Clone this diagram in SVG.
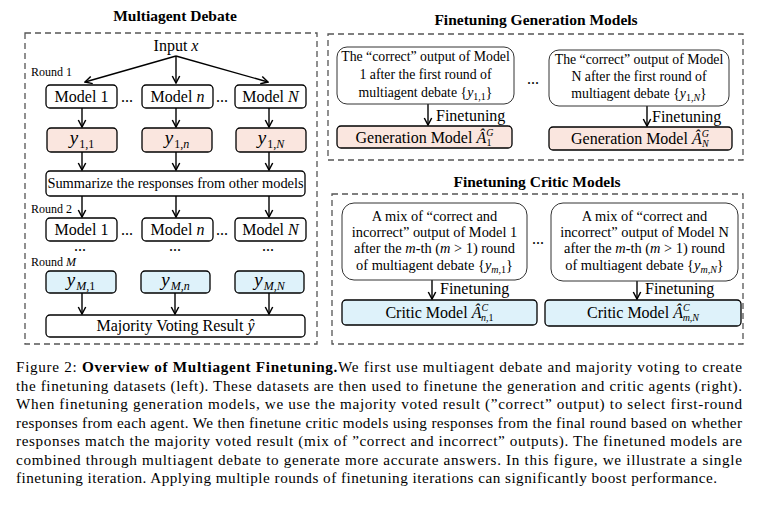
<svg xmlns="http://www.w3.org/2000/svg" width="758" height="506" viewBox="0 0 758 506">
<style>
text{font-family:"Liberation Serif","Times New Roman",serif;fill:#000}
.t{font-size:15.5px;font-weight:bold}
.m{font-size:16px;text-anchor:middle}
.s{font-size:14.4px;text-anchor:middle}
.d{font-size:13.8px;text-anchor:middle}
.dc{font-size:14.4px;text-anchor:middle}
.r{font-size:12px}
.ft{font-size:16px}
.cap{font-size:15.2px}
.i{font-style:italic}
.yv{font-style:italic;font-size:19px}
.sb{font-size:12px}
.box{fill:#fff;stroke:#000;stroke-width:1.3}
.pink{fill:#fae6df;stroke:#000;stroke-width:1.3}
.blue{fill:#def2fa;stroke:#000;stroke-width:1.3}
.tb{fill:#fff;stroke:#333;stroke-width:1}
.dash{fill:none;stroke:#555;stroke-width:1.3;stroke-dasharray:6 4}
.c{fill:none;stroke:#000;stroke-width:1.4;marker-end:url(#ah)}
</style>
<defs>
<marker id="ah" markerWidth="10" markerHeight="10" refX="9" refY="5" orient="auto" markerUnits="userSpaceOnUse">
<path d="M2,1.3 L9,5 L2,8.7" fill="none" stroke="#000" stroke-width="1.5"/>
</marker>
</defs>
<rect width="758" height="506" fill="#fff"/>

<g id="frames">
<rect class="dash" x="25" y="33" width="292" height="311"/>
<rect class="dash" x="328" y="34" width="415" height="126"/>
<rect class="dash" x="332" y="194" width="411" height="150"/>
<text class="t" x="175" y="21" text-anchor="middle">Multiagent Debate</text>
<text class="t" x="536" y="25" text-anchor="middle">Finetuning Generation Models</text>
<text class="t" x="537" y="187" text-anchor="middle">Finetuning Critic Models</text>
<text class="r" x="31" y="76">Round 1</text>
<text class="r" x="31" y="213">Round 2</text>
<text class="r" x="31" y="266">Round <tspan class="i">M</tspan></text>
<text class="m" x="127" y="102">...</text>
<text class="m" x="222" y="102">...</text>
<text class="m" x="127" y="235">...</text>
<text class="m" x="222" y="235">...</text>
<text class="m" x="80" y="251">...</text>
<text class="m" x="175" y="251">...</text>
<text class="m" x="268" y="251">...</text>
<text class="m" x="533" y="84">...</text>
<text class="m" x="538" y="244">...</text>
</g>

<g id="connectors">
<line class="c" x1="176" y1="56" x2="85" y2="82"/>
<line class="c" x1="176" y1="56" x2="176" y2="83"/>
<line class="c" x1="176" y1="56" x2="268" y2="82"/>
<line class="c" x1="82" y1="108" x2="82" y2="127"/>
<line class="c" x1="176" y1="108" x2="176" y2="127"/>
<line class="c" x1="269" y1="108" x2="269" y2="127"/>
<line class="c" x1="82" y1="152" x2="82" y2="170"/>
<line class="c" x1="176" y1="152" x2="176" y2="170"/>
<line class="c" x1="269" y1="152" x2="269" y2="170"/>
<line class="c" x1="82" y1="196" x2="82" y2="217"/>
<line class="c" x1="176" y1="196" x2="176" y2="217"/>
<line class="c" x1="269" y1="196" x2="269" y2="217"/>
<line class="c" x1="82" y1="293" x2="82" y2="314"/>
<line class="c" x1="175" y1="293" x2="175" y2="314"/>
<line class="c" x1="269" y1="293" x2="269" y2="314"/>
<line class="c" x1="428" y1="104" x2="428" y2="125"/>
<line class="c" x1="647" y1="106" x2="647" y2="126"/>
<line class="c" x1="432" y1="280" x2="432" y2="299"/>
<line class="c" x1="637" y1="281" x2="637" y2="299"/>
<text class="ft" x="436" y="121">Finetuning</text>
<text class="ft" x="652" y="122">Finetuning</text>
<text class="ft" x="440" y="294">Finetuning</text>
<text class="ft" x="645" y="294">Finetuning</text>
</g>

<g id="input"><text class="m" x="176" y="51">Input <tspan class="i">x</tspan></text></g>

<g id="r1-model-1"><rect class="box" x="46" y="85" width="71" height="23" rx="4"/><text class="m" x="81.5" y="102">Model 1</text></g>
<g id="r1-model-n"><rect class="box" x="142" y="85" width="71" height="23" rx="4"/><text class="m" x="177.5" y="102">Model <tspan class="i">n</tspan></text></g>
<g id="r1-model-N"><rect class="box" x="235" y="85" width="71" height="23" rx="4"/><text class="m" x="270.5" y="102">Model <tspan class="i">N</tspan></text></g>

<g id="y-1-1"><rect class="pink" x="47" y="128" width="70" height="24" rx="4"/><text class="m" x="82" y="144"><tspan class="yv">y</tspan><tspan class="sb" dx="1" dy="4">1,1</tspan></text></g>
<g id="y-1-n"><rect class="pink" x="142" y="128" width="70" height="24" rx="4"/><text class="m" x="177" y="144"><tspan class="yv">y</tspan><tspan class="sb" dx="1" dy="4">1,<tspan class="i">n</tspan></tspan></text></g>
<g id="y-1-N"><rect class="pink" x="236" y="128" width="70" height="24" rx="4"/><text class="m" x="271" y="144"><tspan class="yv">y</tspan><tspan class="sb" dx="1" dy="4">1,<tspan class="i">N</tspan></tspan></text></g>

<g id="summarize"><rect class="box" x="46" y="171" width="259" height="25" rx="4"/><text class="s" x="175.5" y="188">Summarize the responses from other models</text></g>

<g id="r2-model-1"><rect class="box" x="46" y="218" width="71" height="23" rx="4"/><text class="m" x="81.5" y="235">Model 1</text></g>
<g id="r2-model-n"><rect class="box" x="142" y="218" width="71" height="23" rx="4"/><text class="m" x="177.5" y="235">Model <tspan class="i">n</tspan></text></g>
<g id="r2-model-N"><rect class="box" x="235" y="218" width="71" height="23" rx="4"/><text class="m" x="270.5" y="235">Model <tspan class="i">N</tspan></text></g>

<g id="y-M-1"><rect class="blue" x="46" y="271" width="70" height="22" rx="4"/><text class="m" x="81" y="286"><tspan class="yv">y</tspan><tspan class="sb" dx="1" dy="4"><tspan class="i">M</tspan>,1</tspan></text></g>
<g id="y-M-n"><rect class="blue" x="141" y="271" width="69" height="22" rx="4"/><text class="m" x="175.5" y="286"><tspan class="yv">y</tspan><tspan class="sb i" dx="1" dy="4">M,n</tspan></text></g>
<g id="y-M-N"><rect class="blue" x="235" y="271" width="69" height="22" rx="4"/><text class="m" x="269.5" y="286"><tspan class="yv">y</tspan><tspan class="sb i" dx="1" dy="4">M,N</tspan></text></g>

<g id="majority"><rect class="box" x="46" y="315" width="259" height="22" rx="4"/><text class="m" x="175.5" y="331">Majority Voting Result <tspan class="i">ŷ</tspan></text></g>

<g id="gen-data-1"><rect class="tb" x="337" y="47" width="177" height="57" rx="10"/>
<text class="d" x="425.5" y="61">The “correct” output of Model</text>
<text class="d" x="425.5" y="79">1 after the first round of</text>
<text class="d" x="425.5" y="97">multiagent debate {<tspan class="i">y</tspan><tspan font-size="10" dy="3">1,1</tspan><tspan dy="-3">}</tspan></text></g>
<g id="gen-data-N"><rect class="tb" x="549" y="50" width="180" height="56" rx="10"/>
<text class="d" x="639" y="64">The “correct” output of Model</text>
<text class="d" x="639" y="81">N after the first round of</text>
<text class="d" x="639" y="98">multiagent debate {<tspan class="i">y</tspan><tspan font-size="10" dy="3">1,<tspan class="i">N</tspan></tspan><tspan dy="-3">}</tspan></text></g>

<g id="gen-model-1"><rect class="pink" x="337" y="126" width="175" height="22" rx="4"/><text class="m" x="424.5" y="143">Generation Model <tspan class="i">Â</tspan><tspan class="i" font-size="10" dy="-7">G</tspan><tspan font-size="10" dx="-7" dy="10">1</tspan></text></g>
<g id="gen-model-N"><rect class="pink" x="549" y="127" width="183" height="23" rx="4"/><text class="m" x="640" y="144">Generation Model <tspan class="i">Â</tspan><tspan class="i" font-size="10" dy="-7">G</tspan><tspan class="i" font-size="10" dx="-7" dy="10">N</tspan></text></g>

<g id="critic-data-1"><rect class="tb" x="342" y="203" width="185" height="77" rx="12"/>
<text class="dc" x="434.5" y="221">A mix of “correct and</text>
<text class="dc" x="434.5" y="237">incorrect” output of Model 1</text>
<text class="dc" x="434.5" y="253">after the <tspan class="i">m</tspan>-th (<tspan class="i">m</tspan> &gt; 1) round</text>
<text class="dc" x="434.5" y="270">of multiagent debate {<tspan class="i">y</tspan><tspan font-size="10" dy="3"><tspan class="i">m</tspan>,1</tspan><tspan dy="-3">}</tspan></text></g>
<g id="critic-data-N"><rect class="tb" x="551" y="203" width="187" height="78" rx="12"/>
<text class="dc" x="644.5" y="221">A mix of “correct and</text>
<text class="dc" x="644.5" y="237">incorrect” output of Model N</text>
<text class="dc" x="644.5" y="253">after the <tspan class="i">m</tspan>-th (<tspan class="i">m</tspan> &gt; 1) round</text>
<text class="dc" x="644.5" y="270">of multiagent debate {<tspan class="i">y</tspan><tspan font-size="10" dy="3" class="i">m,N</tspan><tspan dy="-3">}</tspan></text></g>

<g id="critic-model-1"><rect class="blue" x="342" y="300" width="195" height="25" rx="4"/><text class="m" x="439.5" y="318">Critic Model <tspan class="i">Â</tspan><tspan class="i" font-size="10" dy="-7">C</tspan><tspan font-size="10" dx="-7" dy="10"><tspan class="i">n</tspan>,1</tspan></text></g>
<g id="critic-model-N"><rect class="blue" x="545" y="300" width="196" height="26" rx="4"/><text class="m" x="643" y="318">Critic Model <tspan class="i">Â</tspan><tspan class="i" font-size="10" dy="-7">C</tspan><tspan class="i" font-size="10" dx="-7" dy="10">m,N</tspan></text></g>

<g id="caption">
<text class="cap" x="16" y="372" textLength="726" lengthAdjust="spacing">Figure 2: <tspan font-weight="bold">Overview of Multiagent Finetuning.</tspan>We first use multiagent debate and majority voting to create</text>
<text class="cap" x="16" y="390.5" textLength="726" lengthAdjust="spacing">the finetuning datasets (left). These datasets are then used to finetune the generation and critic agents (right).</text>
<text class="cap" x="16" y="409" textLength="726" lengthAdjust="spacing">When finetuning generation models, we use the majority voted result (”correct” output) to select first-round</text>
<text class="cap" x="16" y="427.5" textLength="726" lengthAdjust="spacing">responses from each agent. We then finetune critic models using responses from the final round based on whether</text>
<text class="cap" x="16" y="446" textLength="726" lengthAdjust="spacing">responses match the majority voted result (mix of ”correct and incorrect” outputs). The finetuned models are</text>
<text class="cap" x="16" y="464.5" textLength="726" lengthAdjust="spacing">combined through multiagent debate to generate more accurate answers. In this figure, we illustrate a single</text>
<text class="cap" x="16" y="483" textLength="701" lengthAdjust="spacing">finetuning iteration. Applying multiple rounds of finetuning iterations can significantly boost performance.</text>
</g>
</svg>
